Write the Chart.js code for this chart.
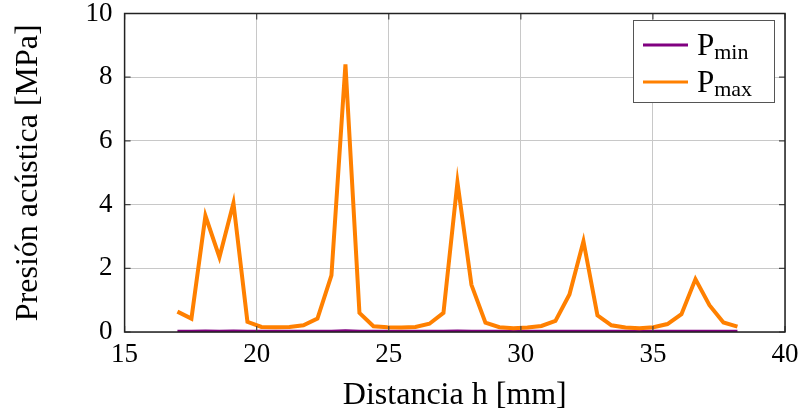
<!DOCTYPE html>
<html>
<head>
<meta charset="utf-8">
<script src="https://cdn.jsdelivr.net/npm/chart.js@4.4.1/dist/chart.umd.min.js"></script>
<style>
  body { margin: 0; background: #fff; }
</style>
</head>
<body>
<canvas id="myChart" width="804" height="419"></canvas>
<script>
var distancia = [17.0, 17.53, 18.06, 18.59, 19.12, 19.65, 20.18, 20.71, 21.24, 21.77,
  22.3, 22.83, 23.36, 23.89, 24.42, 24.95, 25.48, 26.01, 26.54, 27.07,
  27.6, 28.13, 28.66, 29.19, 29.72, 30.25, 30.78, 31.31, 31.84, 32.37,
  32.9, 33.43, 33.96, 34.49, 35.02, 35.55, 36.08, 36.61, 37.14, 37.67, 38.2];
var pMax = [0.64, 0.42, 3.65, 2.35, 4.05, 0.32, 0.16, 0.15, 0.16, 0.21,
  0.42, 1.78, 8.4, 0.6, 0.18, 0.15, 0.14, 0.16, 0.26, 0.6,
  4.7, 1.48, 0.29, 0.15, 0.12, 0.14, 0.19, 0.35, 1.18, 2.85,
  0.52, 0.21, 0.14, 0.12, 0.15, 0.25, 0.56, 1.66, 0.84, 0.3, 0.17];
var pMin = [0.02, 0.02, 0.03, 0.02, 0.03, 0.02, 0.02, 0.02, 0.02, 0.02,
  0.02, 0.02, 0.04, 0.02, 0.02, 0.02, 0.02, 0.02, 0.02, 0.02,
  0.03, 0.02, 0.02, 0.02, 0.02, 0.02, 0.02, 0.02, 0.02, 0.02,
  0.02, 0.02, 0.02, 0.02, 0.02, 0.02, 0.02, 0.02, 0.02, 0.02, 0.02];
var xTicks = [15, 20, 25, 30, 35, 40];
var yTicks = [0, 2, 4, 6, 8, 10];

function pts(ys) {
  return distancia.map(function (x, i) { return { x: x, y: ys[i] }; });
}

var serif = '"Liberation Serif", "Times New Roman", serif';

// frame + inward tick marks like pgfplots, plus the legend box
var framePlugin = {
  id: 'frame',
  afterDraw: function (chart) {
    var c = chart.ctx, a = chart.chartArea;
    var sx = chart.scales.x, sy = chart.scales.y;
    c.save();
    c.strokeStyle = '#444';
    c.lineWidth = 1.2;
    xTicks.forEach(function (t) {
      var px = sx.getPixelForValue(t);
      c.beginPath();
      c.moveTo(px, a.bottom); c.lineTo(px, a.bottom - 6);
      c.moveTo(px, a.top); c.lineTo(px, a.top + 6);
      c.stroke();
    });
    yTicks.forEach(function (t) {
      var py = sy.getPixelForValue(t);
      c.beginPath();
      c.moveTo(a.left, py); c.lineTo(a.left + 6, py);
      c.moveTo(a.right, py); c.lineTo(a.right - 6, py);
      c.stroke();
    });
    c.strokeStyle = '#222';
    c.lineWidth = 1.5;
    c.strokeRect(a.left, a.top, a.right - a.left, a.bottom - a.top);

    // legend
    c.fillStyle = '#fff';
    c.fillRect(633, 20.5, 141, 82);
    c.strokeStyle = '#555';
    c.lineWidth = 1;
    c.strokeRect(633.5, 20.5, 141, 82);
    var rows = [
      { color: '#800080', sub: 'min', y: 45, base: 55 },
      { color: '#ff8000', sub: 'max', y: 82, base: 92 }
    ];
    rows.forEach(function (r) {
      c.strokeStyle = r.color;
      c.lineWidth = 3;
      c.beginPath();
      c.moveTo(643, r.y); c.lineTo(688, r.y);
      c.stroke();
      c.fillStyle = '#000';
      c.textAlign = 'left';
      c.textBaseline = 'alphabetic';
      c.font = '31px ' + serif;
      c.fillText('P', 697, r.base);
      var w = c.measureText('P').width;
      c.font = '22px ' + serif;
      c.fillText(r.sub, 697 + w, r.base + 3.5);
    });
    c.restore();
  }
};

var ctx = document.getElementById("myChart").getContext('2d');
var myChart = new Chart(ctx, {
  type: 'line',
  data: {
    datasets: [{
      label: 'Pmin',
      data: pts(pMin),
      borderColor: '#800080',
      borderWidth: 3,
      pointRadius: 0,
      tension: 0,
      order: 1
    }, {
      label: 'Pmax',
      data: pts(pMax),
      borderColor: '#ff8000',
      borderWidth: 4,
      pointRadius: 0,
      tension: 0,
      order: 0
    }]
  },
  options: {
    responsive: false,
    animation: false,
    layout: { padding: { left: 0, right: 19, top: 13.5, bottom: 0 } },
    plugins: { legend: { display: false }, tooltip: { enabled: false } },
    scales: {
      x: {
        type: 'linear', min: 15, max: 40,
        afterBuildTicks: function (s) { s.ticks = xTicks.map(function (v) { return { value: v }; }); },
        afterFit: function (s) { s.height = 87; s.paddingLeft = 0; s.paddingRight = 0; },
        grid: { color: '#c8c8c8', drawTicks: false },
        border: { display: false },
        ticks: { color: '#000', padding: 7, font: { family: serif, size: 27 } },
        title: { display: true, text: 'Distancia h [mm]', color: '#000', padding: { bottom: 4 }, font: { family: serif, size: 32 } }
      },
      y: {
        min: 0, max: 10,
        afterBuildTicks: function (s) { s.ticks = yTicks.map(function (v) { return { value: v }; }); },
        afterFit: function (s) { s.width = 124.6; s.paddingTop = 0; s.paddingBottom = 0; },
        grid: { color: '#c8c8c8', drawTicks: false },
        border: { display: false },
        ticks: { color: '#000', padding: 12, font: { family: serif, size: 27 } },
        title: { display: true, text: 'Presión acústica [MPa]', color: '#000', padding: { top: 9 }, font: { family: serif, size: 32 } }
      }
    }
  },
  plugins: [framePlugin]
});
</script>
</body>
</html>
